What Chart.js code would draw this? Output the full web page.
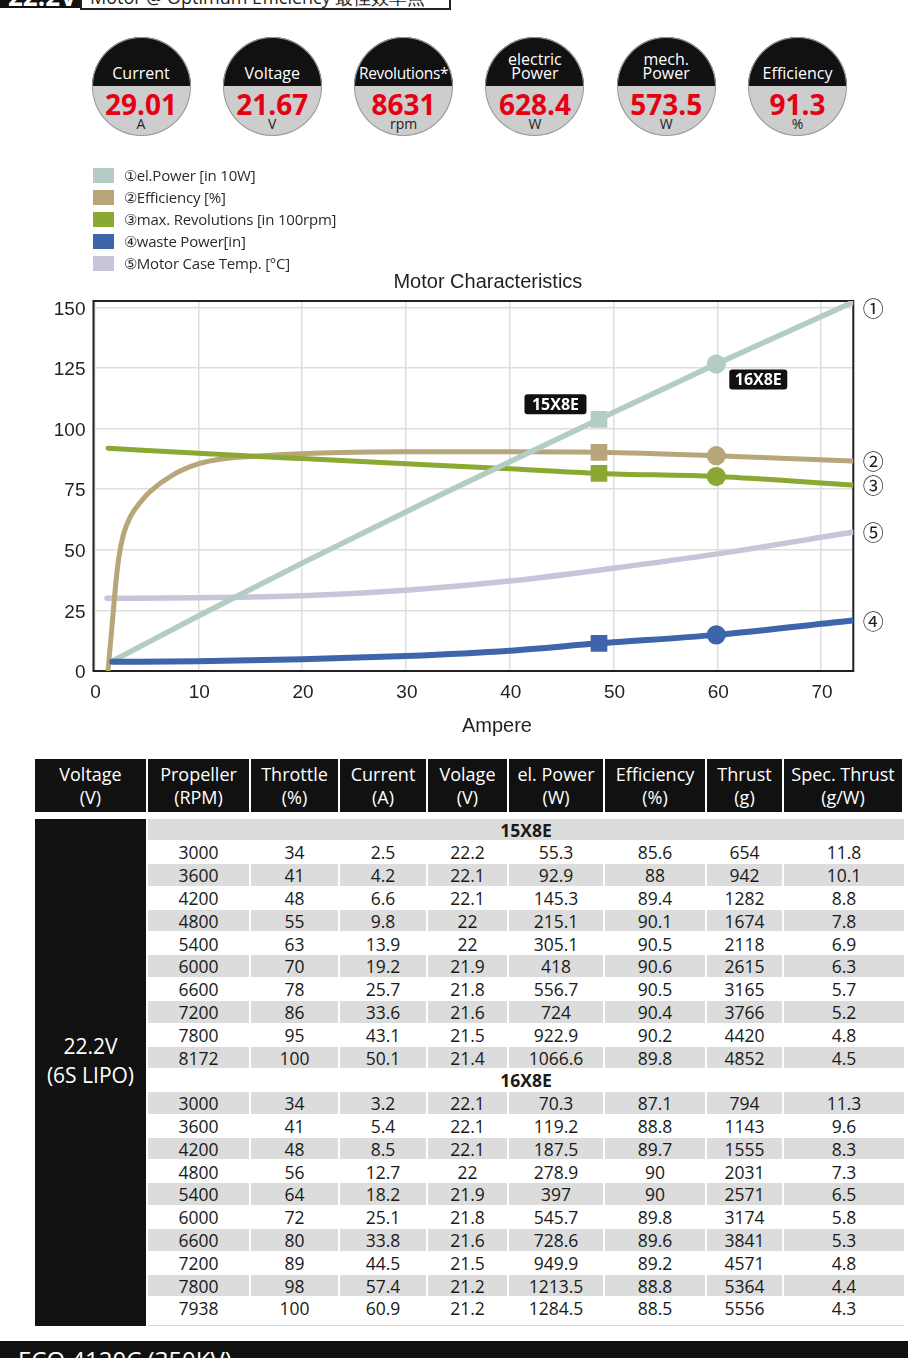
<!DOCTYPE html>
<html>
<head>
<meta charset="utf-8">
<script src="https://cdn.jsdelivr.net/npm/chart.js@4.4.0/dist/chart.umd.min.js"></script>
<style>
html, body { margin: 0; padding: 0; }
body { width: 908px; height: 1358px; position: relative; overflow: hidden; background: #fff;
       font-family: "Open Sans", sans-serif; color: #231f20; }
#topTag { position: absolute; left: 0; top: -20px; width: 80px; height: 28px; background: #111; overflow: hidden; }
#topTag span { position: absolute; left: 8px; top: 3px; color: #fff; font-weight: bold; font-size: 26px; line-height: 26px; }
#topBox { position: absolute; left: 80px; top: -20px; width: 367px; height: 28px; border: 2px solid #231f20; border-top: 0; background: #fff; overflow: hidden; }
#topBox span { position: absolute; left: 8px; top: 7.5px; font-size: 18px; line-height: 18px; white-space: nowrap; color: #231f20; }
.gauge { position: absolute; top: 37px; width: 99px; height: 99px; border-radius: 50%; overflow: hidden;
         background: linear-gradient(#111 50%, #cdcdcd 50%); box-shadow: inset 0 0 0 1px #9a9a9a; }
.gauge .lbl { position: absolute; left: 0; width: 100%; bottom: 56px; text-align: center; color: #fff; font-size: 16px; line-height: 14px; }
.gauge .val { position: absolute; left: 0; width: 100%; top: 52px; text-align: center; color: #e50012; font-weight: bold; font-size: 28px; line-height: 30px; }
.gauge .unit { position: absolute; left: 0; width: 100%; top: 79.5px; text-align: center; color: #222; font-size: 14px; line-height: 14px; }
.sw { position: absolute; left: 93px; width: 21px; height: 15px; }
.lg { position: absolute; left: 124px; font-size: 15px; line-height: 22px; color: #2b2b2b; white-space: nowrap; letter-spacing: -0.2px; }
#chart { position: absolute; left: 0; top: 262px; }
.cell { position: absolute; text-align: center; box-sizing: border-box; white-space: nowrap; }
.hd { background: #111; color: #fff; font-size: 18px; line-height: 23px; padding-top: 3.5px; }
.td { font-size: 17.5px; color: #1a1a1a; line-height: 22.8px; }
.gr { font-size: 17.5px; font-weight: bold; color: #1a1a1a; line-height: 22.8px; }
#footer { position: absolute; left: 0; top: 1341px; width: 908px; height: 17px; background: #111; overflow: hidden; }
#footer span { position: absolute; left: 18px; top: 6.7px; color: #fff; font-size: 24px; line-height: 24px; white-space: nowrap; }
</style>
</head>
<body>
<div id="topTag"><span>22.2V</span></div>
<div id="topBox"><span>Motor @ Optimum Efficiency 最佳效率点</span></div>
<canvas id="chart" width="908" height="483"></canvas>
<div id="footer"><span>ECO 4120C (350KV)</span></div>
<script>
// gauges
const gaugeTitles = ['Current', 'Voltage', 'Revolutions*', 'electric\nPower', 'mech.\nPower', 'Efficiency'];
const gaugeValues = ['29.01', '21.67', '8631', '628.4', '573.5', '91.3'];
const gaugeUnits = ['A', 'V', 'rpm', 'W', 'W', '%'];

// legend / series
const seriesNames = ['①el.Power [in 10W]', '②Efficiency [%]', '③max. Revolutions [in 100rpm]', '④waste Power[in]', '⑤Motor Case Temp. [°C]'];
const seriesColors = ['#b3cdc5', '#b6a67a', '#8ba832', '#3e64a9', '#c7c5d9'];
const endMarks = ['①', '②', '③', '④', '⑤'];

// chart axes
const xTicks = [0, 10, 20, 30, 40, 50, 60, 70];
const yTicks = [0, 25, 50, 75, 100, 125, 150];

// curves (Ampere -> value)
const elPowerAmps = [1.7, 10, 20, 33.3, 48.6, 59.9, 73];
const elPowerVals = [4.0, 22.7, 44.5, 72.6, 103.8, 126.6, 152];
const effAmps = [1.3, 1.55, 1.8, 2.05, 2.35, 2.8, 3.5, 4.5, 5.35, 7.6, 10, 12.4, 16.6, 23.7, 30, 40, 48.6, 59.9, 73];
const effVals = [0, 12, 24, 36, 47, 56.5, 64, 70, 74, 81, 85.4, 87.5, 88.9, 90.1, 90.4, 90.4, 90.2, 88.8, 86.6];
const revAmps = [1.3, 10, 20, 30, 40, 48.6, 59.9, 73];
const revVals = [91.9, 89.8, 87.6, 85.5, 83.4, 81.5, 80.2, 76.7];
const wasteAmps = [1.7, 10, 20, 30, 40, 48.6, 59.9, 73];
const wasteVals = [3.8, 4.0, 4.8, 6.2, 8.4, 11.4, 14.9, 20.8];
const tempAmps = [1.2, 10, 20, 30, 40, 50, 60, 73];
const tempVals = [30, 30.2, 31.0, 33.3, 37.1, 42.4, 48.3, 57.2];

// propeller operating points (15X8E, 16X8E)
const markNames = ['15X8E', '16X8E'];
const markAmps = [48.6, 59.9];
const markElPower = [103.8, 126.6];
const markEff = [90.2, 88.8];
const markRev = [81.5, 80.2];
const markWaste = [11.4, 14.9];

// table
const tableHead = [['Voltage', '(V)'], ['Propeller', '(RPM)'], ['Throttle', '(%)'], ['Current', '(A)'], ['Volage', '(V)'],
                   ['el. Power', '(W)'], ['Efficiency', '(%)'], ['Thrust', '(g)'], ['Spec. Thrust', '(g/W)']];
const rpm15 = [3000, 3600, 4200, 4800, 5400, 6000, 6600, 7200, 7800, 8172];
const throttle15 = [34, 41, 48, 55, 63, 70, 78, 86, 95, 100];
const current15 = [2.5, 4.2, 6.6, 9.8, 13.9, 19.2, 25.7, 33.6, 43.1, 50.1];
const volt15 = [22.2, 22.1, 22.1, 22, 22, 21.9, 21.8, 21.6, 21.5, 21.4];
const power15 = [55.3, 92.9, 145.3, 215.1, 305.1, 418, 556.7, 724, 922.9, 1066.6];
const eff15 = [85.6, 88, 89.4, 90.1, 90.5, 90.6, 90.5, 90.4, 90.2, 89.8];
const thrust15 = [654, 942, 1282, 1674, 2118, 2615, 3165, 3766, 4420, 4852];
const spec15 = [11.8, 10.1, 8.8, 7.8, 6.9, 6.3, 5.7, 5.2, 4.8, 4.5];
const rpm16 = [3000, 3600, 4200, 4800, 5400, 6000, 6600, 7200, 7800, 7938];
const throttle16 = [34, 41, 48, 56, 64, 72, 80, 89, 98, 100];
const current16 = [3.2, 5.4, 8.5, 12.7, 18.2, 25.1, 33.8, 44.5, 57.4, 60.9];
const volt16 = [22.1, 22.1, 22.1, 22, 21.9, 21.8, 21.6, 21.5, 21.2, 21.2];
const power16 = [70.3, 119.2, 187.5, 278.9, 397, 545.7, 728.6, 949.9, 1213.5, 1284.5];
const eff16 = [87.1, 88.8, 89.7, 90, 90, 89.8, 89.6, 89.2, 88.8, 88.5];
const thrust16 = [794, 1143, 1555, 2031, 2571, 3174, 3841, 4571, 5364, 5556];
const spec16 = [11.3, 9.6, 8.3, 7.3, 6.5, 5.8, 5.3, 4.8, 4.4, 4.3];

function el(cls, css, html) {
  const d = document.createElement('div');
  d.className = cls;
  Object.assign(d.style, css);
  if (html !== undefined) d.innerHTML = html;
  document.body.appendChild(d);
  return d;
}

// gauges
gaugeTitles.forEach((t, i) => {
  const cx = 141 + 131.3 * i;
  const g = el('gauge', {left: (cx - 49.5) + 'px'});
  const long = t.length > 10 && t.indexOf('\n') < 0;
  g.innerHTML = '<div class="lbl" style="' + (long ? 'font-size:15.5px;letter-spacing:-0.3px' : '') + '">' +
    t.replace('\n', '<br>') + '</div><div class="val">' + gaugeValues[i] + '</div><div class="unit">' + gaugeUnits[i] + '</div>';
});

// legend
seriesNames.forEach((n, i) => {
  const cy = 175.5 + 21.9 * i;
  el('sw', {top: (cy - 7.5) + 'px', background: seriesColors[i]});
  el('lg', {top: (cy - 11.5) + 'px'}, n);
});

// table
const bounds = [35, 148, 251, 340, 428, 509, 605, 707, 784, 904];
tableHead.forEach((h, j) => {
  el('cell hd', {left: bounds[j] + 'px', top: '759px', width: (bounds[j + 1] - bounds[j] - 2) + 'px', height: '53px'},
     h[0] + '<br>' + h[1]);
});
const rowTop = 818.5, rowH = 22.8;
el('cell', {left: '35px', top: rowTop + 'px', width: '111px', height: (1326 - rowTop) + 'px', background: '#111'});
el('cell', {left: '35px', top: '1031.5px', width: '111px', color: '#fff', fontSize: '21px', lineHeight: '29px'}, '22.2V<br>(6S LIPO)');
const groups = [
  [rpm15, throttle15, current15, volt15, power15, eff15, thrust15, spec15],
  [rpm16, throttle16, current16, volt16, power16, eff16, thrust16, spec16]
];
let r = 0;
groups.forEach((cols, gi) => {
  const gray = r % 2 === 0;
  el('cell gr', {left: '148px', top: (rowTop + r * rowH) + 'px', width: '756px', height: (rowH - 1) + 'px',
                 background: gray ? '#dcdcdc' : '#fff'}, markNames[gi]);
  r++;
  for (let k = 0; k < cols[0].length; k++) {
    const g2 = r % 2 === 0;
    for (let j = 0; j < 8; j++) {
      el('cell td', {left: bounds[j + 1] + 'px', top: (rowTop + r * rowH) + 'px',
                     width: (bounds[j + 2] - bounds[j + 1] - (j < 7 ? 2 : 0)) + 'px', height: (rowH - 1) + 'px',
                     background: g2 ? '#dcdcdc' : '#fff'}, String(cols[j][k]));
    }
    r++;
  }
});
el('cell', {left: '148px', top: '1325px', width: '756px', height: '1px', background: '#d8d8d8'});

// chart
const pts = (xs, ys) => xs.map((x, i) => ({x: x, y: ys[i]}));
const lineSet = (i, xs, ys, w, order) => ({
  data: pts(xs, ys), borderColor: seriesColors[i], backgroundColor: seriesColors[i], borderWidth: w,
  pointRadius: 0, cubicInterpolationMode: 'monotone', fill: false, borderCapStyle: 'round', order: order
});
const markSet = (i, ys) => ({
  data: pts(markAmps, ys), showLine: false, pointStyle: ['rect', 'circle'], pointRadius: [11.8, 9.6],
  backgroundColor: seriesColors[i], borderColor: seriesColors[i], borderWidth: 0, order: 0
});

const extras = {
  id: 'extras',
  beforeDatasetsDraw(chart) {
    const {ctx, chartArea: a} = chart;
    ctx.save();
    ctx.strokeStyle = '#231f20';
    ctx.lineWidth = 2;
    ctx.strokeRect(a.left - 1, a.top, a.right - a.left + 1, a.bottom - a.top);
    ctx.restore();
  },
  afterDatasetsDraw(chart) {
    const {ctx, chartArea: a} = chart;
    ctx.save();
    ctx.fillStyle = '#231f20';
    ctx.textAlign = 'center';
    ctx.textBaseline = 'middle';
    ctx.font = '20px "Liberation Sans", Arial, sans-serif';
    const mid = (a.left + a.right) / 2;
    ctx.fillText('Motor Characteristics', mid + 14, a.top - 19);
    ctx.fillText('Ampere', mid + 23, a.bottom + 55);
    // line end marks
    ctx.font = '21px "Noto Sans CJK JP", "DejaVu Sans", sans-serif';
    for (let i = 0; i < 5; i++) {
      const d = chart.getDatasetMeta(i).data;
      const y = Math.max(d[d.length - 1].y, a.top + 7);
      ctx.fillText(endMarks[i], a.right + 20, y);
    }
    // propeller tags
    const m = chart.getDatasetMeta(5).data;
    const tags = [[m[0].x - 43.5, m[0].y - 15, 62], [m[1].x + 42, m[1].y + 15.5, 58]];
    ctx.font = 'bold 16px "Open Sans", sans-serif';
    tags.forEach((t, i) => {
      ctx.fillStyle = '#111';
      ctx.beginPath();
      ctx.roundRect(t[0] - t[2] / 2, t[1] - 10, t[2], 20, 3);
      ctx.fill();
      ctx.fillStyle = '#fff';
      ctx.fillText(markNames[i], t[0], t[1] + 1);
    });
    ctx.restore();
  }
};

const tickFont = {family: '"Liberation Sans", Arial, sans-serif', size: 19};
new Chart(document.getElementById('chart'), {
  type: 'line',
  data: {
    datasets: [
      lineSet(0, elPowerAmps, elPowerVals, 5.5, 2),
      lineSet(1, effAmps, effVals, 5, 4),
      lineSet(2, revAmps, revVals, 5, 3),
      lineSet(3, wasteAmps, wasteVals, 6, 1),
      lineSet(4, tempAmps, tempVals, 5.5, 5),
      markSet(0, markElPower),
      markSet(1, markEff),
      markSet(2, markRev),
      markSet(3, markWaste)
    ]
  },
  options: {
    responsive: false,
    animation: false,
    events: [],
    layout: {padding: {top: 39, right: 54.7, left: 0, bottom: 0}},
    plugins: {legend: {display: false}, tooltip: {enabled: false}, title: {display: false}},
    scales: {
      x: {
        type: 'linear', min: 0, max: 73.1,
        afterBuildTicks: s => { s.ticks = xTicks.map(v => ({value: v})); },
        afterFit: s => { s.height = 74; },
        grid: {color: '#dedede', lineWidth: 1.5, drawTicks: false},
        border: {display: false},
        ticks: {padding: 10, color: '#231f20', font: tickFont, labelOffset: 1}
      },
      y: {
        min: 0, max: 152.6,
        afterBuildTicks: s => { s.ticks = yTicks.map(v => ({value: v})); },
        afterFit: s => { s.width = 94.5; },
        grid: {color: '#dedede', lineWidth: 1.5, drawTicks: false},
        border: {display: false},
        ticks: {padding: 9, color: '#231f20', font: tickFont, labelOffset: 2}
      }
    }
  },
  plugins: [extras]
});
</script>
</body>
</html>
